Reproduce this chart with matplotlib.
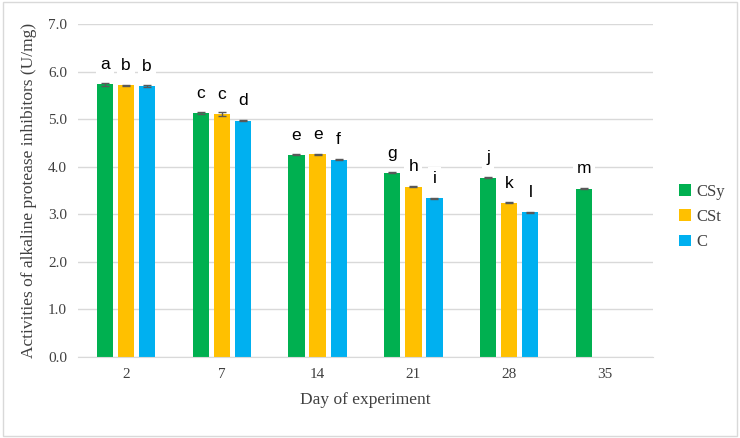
import numpy as np
import matplotlib.pyplot as plt
from matplotlib.patches import Rectangle

# data
days = ['2', '7', '14', '21', '28', '35']
series = ['CSy', 'CSt', 'C']
csy = [5.73, 5.13, 4.25, 3.87, 3.77, 3.54]
cst = [5.71, 5.11, 4.26, 3.58, 3.24, np.nan]
c = [5.70, 4.97, 4.15, 3.34, 3.04, np.nan]
csy_err = [0.03, 0.03, 0.01, 0.01, 0.01, 0.01]
cst_err = [0.01, 0.05, 0.01, 0.01, 0.01, 0.0]
c_err = [0.02, 0.01, 0.01, 0.01, 0.01, 0.0]
letters_csy = ['a', 'c', 'e', 'g', 'j', 'm']
letters_cst = ['b', 'c', 'e', 'h', 'k', '']
letters_c = ['b', 'd', 'f', 'i', 'l', '']

colors = ['#00b050', '#ffc000', '#00b0f0']

fig = plt.figure(figsize=(7.4, 4.38), dpi=100)
ax = fig.add_axes([0.1054, 0.185, 0.777, 0.760])

x = np.arange(len(days))
width = 0.17
step = 0.22
vals = [csy, cst, c]
errs = [csy_err, cst_err, c_err]
labs = [letters_csy, letters_cst, letters_c]

for i in range(3):
    pos = x + (i - 1) * step
    ax.bar(pos, vals[i], width, color=colors[i], label=series[i], zorder=2,
           yerr=errs[i], error_kw=dict(ecolor='#595959', elinewidth=1, capsize=3, capthick=1))
    for p, v, l in zip(pos, vals[i], labs[i]):
        if l and not np.isnan(v):
            ax.text(p, v + 0.26, l, ha='center', va='bottom', fontsize=12.5,
                    family='Liberation Sans', color='black', zorder=3,
                    bbox=dict(facecolor='white', edgecolor='none', pad=3))

ax.set_ylim(0, 7)
ax.set_xlim(-0.5, len(days) - 0.5)
ax.set_yticks(np.arange(0, 7.1, 1.0))
ax.set_yticklabels([f'{v:.1f}' for v in np.arange(0, 7.1, 1.0)])
ax.set_xticks(x)
ax.set_xticklabels(days)
ax.yaxis.grid(True, color='#d9d9d9', linewidth=1, zorder=0)
ax.set_axisbelow(True)
for s in ['top', 'right', 'left']:
    ax.spines[s].set_visible(False)
ax.spines['bottom'].set_color('#d9d9d9')
ax.tick_params(length=0, labelsize=11, colors='#404040', pad=8)
for t in ax.get_xticklabels() + ax.get_yticklabels():
    t.set_family('Liberation Serif')

ax.set_xlabel('Day of experiment', family='Liberation Serif', fontsize=12.5, color='#404040', labelpad=8)
ax.set_ylabel('Activities of alkaline protease inhibitors (U/mg)', family='Liberation Serif',
              fontsize=12.5, color='#404040', labelpad=8)

leg = ax.legend(loc='center left', bbox_to_anchor=(1.02, 0.42), frameon=False,
                prop={'family': 'Liberation Serif', 'size': 12}, handlelength=0.7,
                handleheight=0.7, handletextpad=0.3, labelspacing=0.55, labelcolor='#404040')

fig.patches.append(Rectangle((0.004, 0.004), 0.992, 0.992, transform=fig.transFigure,
                             fill=False, edgecolor='#d9d9d9', linewidth=1))

fig.savefig('out.png', dpi=100)
